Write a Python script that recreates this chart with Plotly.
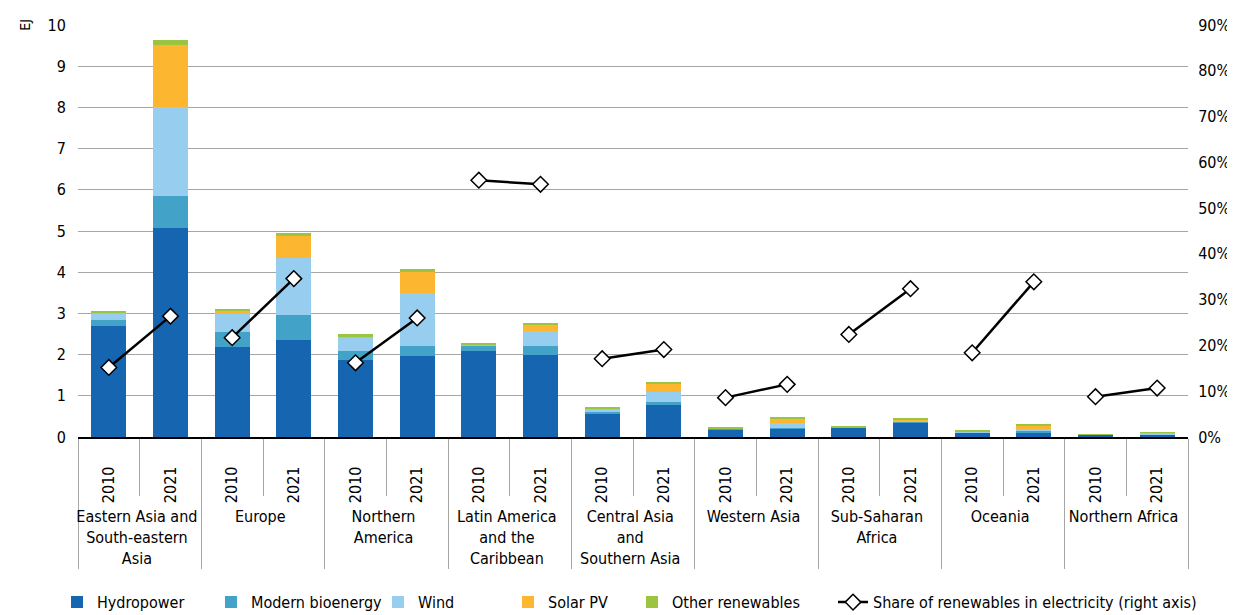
import plotly.graph_objects as go

regions = ["Eastern Asia and<br>South-eastern<br>Asia", "Europe", "Northern<br>America",
           "Latin America<br>and the<br>Caribbean", "Central Asia<br>and<br>Southern Asia",
           "Western Asia", "Sub-Saharan<br>Africa", "Oceania", "Northern Africa"]
years = ["2010", "2021"]

# values (EJ), order: for each region 2010, 2021
hydropower = [2.69, 5.08, 2.18, 2.35, 1.87, 1.97, 2.09, 1.99, 0.58, 0.77,
              0.19, 0.20, 0.22, 0.35, 0.10, 0.10, 0.05, 0.06]
bioenergy = [0.14, 0.77, 0.36, 0.60, 0.22, 0.24, 0.12, 0.22, 0.04, 0.08,
             0.01, 0.03, 0.01, 0.02, 0.02, 0.04, 0.00, 0.005]
wind = [0.16, 2.16, 0.45, 1.40, 0.33, 1.29, 0.02, 0.37, 0.04, 0.25,
        0.01, 0.10, 0.00, 0.02, 0.02, 0.05, 0.01, 0.02]
solar = [0.01, 1.51, 0.07, 0.54, 0.01, 0.50, 0.01, 0.15, 0.04, 0.21,
         0.00, 0.11, 0.00, 0.03, 0.00, 0.10, 0.005, 0.02]
other = [0.06, 0.12, 0.03, 0.05, 0.06, 0.07, 0.03, 0.03, 0.01, 0.01,
         0.03, 0.04, 0.04, 0.04, 0.03, 0.02, 0.005, 0.015]
share = [15.2, 26.4, 21.7, 34.6, 16.2, 26.0, 56.1, 55.2, 17.1, 19.1,
         8.6, 11.5, 22.4, 32.4, 18.4, 33.9, 8.8, 10.7]

series = [("Hydropower", hydropower, "#1565B0"),
          ("Modern bioenergy", bioenergy, "#42A2C8"),
          ("Wind", wind, "#97CDEF"),
          ("Solar PV", solar, "#FDB62F"),
          ("Other renewables", other, "#9BC440")]

# year tick labels padded with invisible trailing spaces (room under the axis)
year_labels = [y + "\u00a0\u00a0" for y in years]
xr = [r for r in regions for _ in years]
xy = [y for _ in regions for y in year_labels]

FONT = "DejaVu Sans Condensed, Roboto, sans-serif"
legend_ids = ["legend2", "legend3", "legend4", "legend5", "legend6", "legend7"]
legend_x = [-0.0189, 0.1198, 0.2703, 0.3874, 0.4991, 0.6802]

fig = go.Figure()
for k, (name, vals, col) in enumerate(series):
    fig.add_trace(go.Bar(x=[xr, xy], y=vals, name=name, marker_color=col,
                         marker_line_width=0, legend=legend_ids[k]))

for i, r in enumerate(regions):
    fig.add_trace(go.Scatter(
        x=[[r, r], year_labels], y=share[2 * i:2 * i + 2], yaxis="y2",
        mode="lines+markers", name="Share of renewables in electricity (right axis)",
        legendgroup="share", showlegend=(i == 0), legend=legend_ids[5],
        line=dict(color="black", width=2.5),
        marker=dict(symbol="diamond", size=12, color="white",
                    line=dict(color="black", width=1.5))))

legends = {}
for lid, lx in zip(legend_ids, legend_x):
    legends[lid] = dict(orientation="h", x=lx, y=-0.401, xanchor="left",
                        yanchor="middle", font=dict(size=16),
                        bgcolor="rgba(0,0,0,0)")

fig.update_layout(
    width=1235, height=623,
    barmode="stack", bargap=0.43,
    plot_bgcolor="white", paper_bgcolor="white",
    margin=dict(l=70, r=55, t=17, b=192),
    font=dict(family=FONT, size=15, color="black"),
    xaxis=dict(type="multicategory", range=[-0.5, 17.5], automargin=False,
               tickangle=-90, showline=True, linecolor="black",
               linewidth=2, ticks="outside", tickson="boundaries", ticklen=57,
               tickcolor="#A6A6A6", showdividers=True, dividercolor="#A6A6A6",
               dividerwidth=1, tickfont=dict(size=16), ticklabelstandoff=12),
    yaxis=dict(range=[0, 10], dtick=1, showgrid=True, gridcolor="#A6A6A6",
               gridwidth=1, zeroline=False, ticks="outside", ticklen=8,
               tickcolor="rgba(0,0,0,0)", automargin=False,
               tickfont=dict(size=16)),
    yaxis2=dict(range=[0, 90], dtick=10, overlaying="y", side="right", automargin=False,
                showgrid=False, zeroline=False, ticksuffix="%", ticks="outside",
                ticklen=6, tickcolor="rgba(0,0,0,0)", tickfont=dict(size=16)),
    annotations=[dict(text="EJ", xref="paper", yref="paper", x=-0.048, y=1.0,
                      textangle=-90, showarrow=False, font=dict(size=14),
                      xanchor="center", yanchor="middle")],
    **legends,
)

fig.write_html("out.html")
